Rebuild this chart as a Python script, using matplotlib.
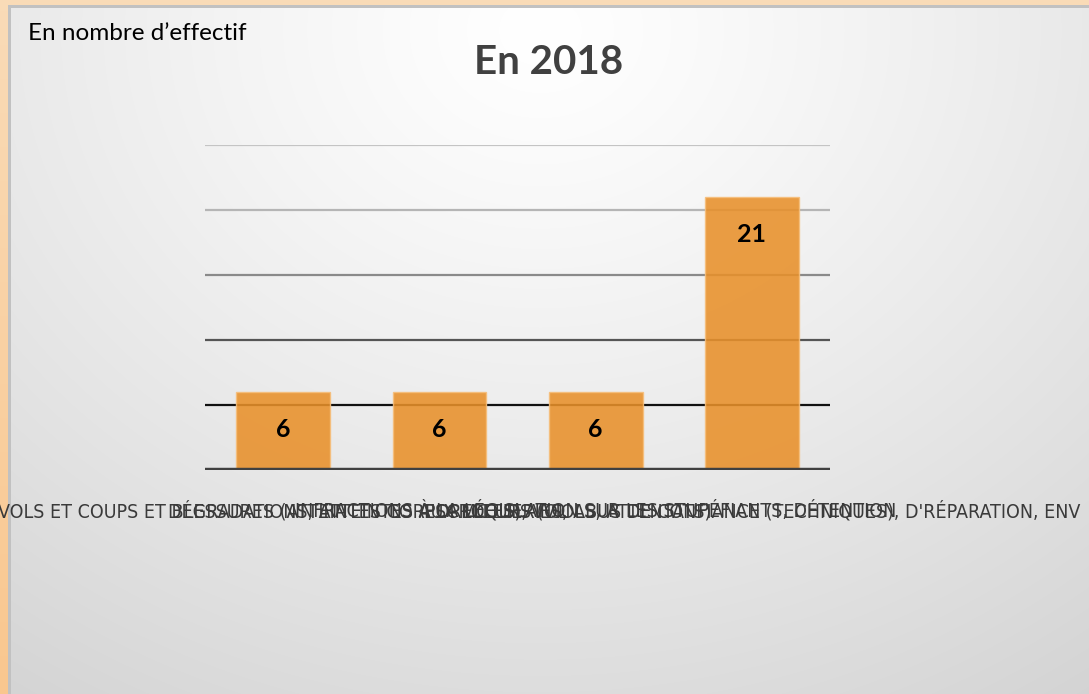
import numpy as np
import matplotlib
matplotlib.use("Agg")
import matplotlib.pyplot as plt

categories = [
    "VOLS ET COUPS ET BLESSURES (ATTEINTES CORPORELLES), VOL",
    "DÉGRADATIONS, ATTEINTES AUX MŒURS (VIOLS, ATTENTATS)",
    "INFRACTIONS À LA LÉGISLATION SUR LES STUPÉFIANTS, DÉTENTION",
    "ESCROQUERIES, ABUS DE CONFIANCE (TECHNIQUES), D'RÉPARATION, ENV",
]
values = [6, 6, 6, 21]
title = "En 2018"
unit_label = "En nombre d\u2019effectif"
yticks = [5, 10, 15, 20, 25]

W, H = 1089, 694
fig = plt.figure(figsize=(W / 100, H / 100), dpi=100)

# background: radial gradient panel with peach border
yy, xx = np.mgrid[0:H, 0:W]
cx, cy = 540, 30
r = np.sqrt(((xx - cx) / 1.0) ** 2 + ((yy - cy) / 0.85) ** 2)
r = r / r.max()
lum = 1.0 - 0.17 * np.clip(r, 0, 1) ** 1.2
img = np.dstack([lum, lum, lum])
# grey edge line
img[5:8, 8:, :] = 0.76
img[5:, 8:11, :] = 0.76
# peach border
top = np.array([0.98, 0.86, 0.72])
img[0:5, :, :] = top
left_top = np.array([0.98, 0.86, 0.72])
left_bot = np.array([0.98, 0.78, 0.56])
t = np.linspace(0, 1, H)[:, None]
leftcol = left_top * (1 - t) + left_bot * t
img[:, 0:8, :] = leftcol[:, None, :]

bg = fig.add_axes([0, 0, 1, 1])
bg.imshow(img, aspect="auto", interpolation="bilinear")
bg.set_axis_off()

ax = fig.add_axes([205 / W, 224 / H, 625 / W, 325 / H])
ax.patch.set_alpha(0)
ax.set_xlim(-0.5, len(categories) - 0.5)
ax.set_ylim(0, 25)

grid_colors = ["#111111", "#555555", "#8a8a8a", "#b5b5b5", "#c4c4c4"]
for yv, c in zip(yticks, grid_colors):
    ax.axhline(yv, color=c, lw=1.6, zorder=1)

x = np.arange(len(categories))
bars = ax.bar(x, values, width=0.6, color="#E8902A", alpha=0.88,
              edgecolor="#F6BE7A", linewidth=1.0, zorder=2)
ax.axhline(0, color="#404040", lw=3.2, zorder=3)

for xi, v in zip(x, values):
    ax.text(xi, v - 2.9, str(v), ha="center", va="center",
            fontsize=18, fontweight="bold", color="black",
            family=["Lato", "DejaVu Sans"], zorder=4)

for s in ax.spines.values():
    s.set_visible(False)
ax.set_yticks([])
ax.set_xticks(x)
ax.set_xticklabels(categories, fontsize=14, color="#3a3a3a",
                   family=["DejaVu Sans"], fontstretch="condensed")
for lbl in ax.get_xticklabels():
    lbl.set_verticalalignment("baseline")
ax.tick_params(axis="x", length=0, pad=34)

fig.text(549 / W, 1 - 62 / H, title, ha="center", va="center",
         fontsize=29, fontweight="bold", color="#404040",
         family=["Lato", "DejaVu Sans"])
fig.text(28 / W, 1 - 33 / H, unit_label, ha="left", va="center",
         fontsize=17.5, color="black", family=["Lato", "DejaVu Sans"])

fig.savefig("out.png", dpi=100)
